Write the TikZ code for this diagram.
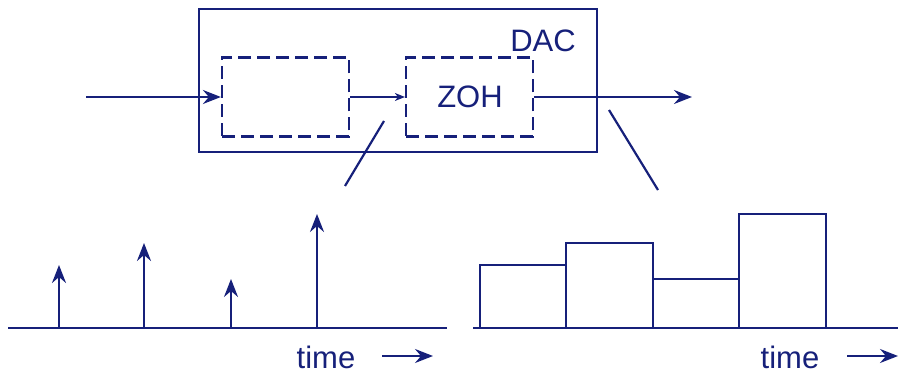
\documentclass[tikz,border=0pt]{standalone}
\usepackage{fontspec}
\setmainfont{Liberation Sans}
\usetikzlibrary{arrows.meta}
\definecolor{ink}{RGB}{22,32,122}
\begin{document}
\begin{tikzpicture}[x=1pt,y=-1pt, color=ink, line width=2.2pt,
  lbl/.style={font=\fontsize{31}{31}\selectfont, inner sep=0pt, anchor=base},
  blockbox/.style={draw, inner sep=0pt},
  dashbox/.style={draw, dash pattern=on 13pt off 6pt, inner sep=0pt},
  bigtip/.style={-{Stealth[length=18pt, width=14pt, inset=6pt]}},
  smalltip/.style={-{Stealth[length=10pt, width=8pt, inset=3pt]}},
]
\useasboundingbox (0,0) rectangle (899,374);

% DAC block with its two inner stages
\node[blockbox, minimum width=398pt, minimum height=143pt] (dac) at (398,80.5) {};
\node[dashbox, minimum width=127pt, minimum height=79pt] (sampler) at (285.5,97) {};
\node[dashbox, minimum width=127pt, minimum height=79pt] (zoh) at (469.5,97) {};
\node[lbl] (daclbl) at (543,52) {DAC};
\node[lbl] (zohlbl) at (470,108) {ZOH};

\coordinate (in) at (86,97);
\coordinate (out) at (692,97);
\draw[bigtip] (in) -- (sampler.west);
\draw[smalltip, line width=1.3pt] (sampler.east) -- (zoh.west);
\draw[bigtip] (zoh.east) -- (out);

% pointer lines to the two signal plots
\coordinate (p1a) at (384,121);
\coordinate (p1b) at (345,186);
\coordinate (p2a) at (609,110);
\coordinate (p2b) at (658,190);
\draw (p1a) -- (p1b);
\draw (p2a) -- (p2b);

% impulse train
\draw (8,328) -- (447,328);
\foreach \x/\h in {59/265, 144/243, 231/279, 317/214}
  \draw[bigtip] (\x,328) -- (\x,\h);

% staircase output
\draw (473,328) -- (898,328);
\draw (480,328) -- (480,265) -- (566,265) -- (566,328);
\draw (566,328) -- (566,243) -- (653,243) -- (653,328);
\draw (653,328) -- (653,279) -- (739,279) -- (739,328);
\draw (739,328) -- (739,214) -- (826,214) -- (826,328);

% time axis labels
\node[lbl] (t1) at (326,368) {time};
\node[lbl] (t2) at (790,368) {time};
\coordinate (a1s) at (382,356);
\coordinate (a1e) at (433,356);
\coordinate (a2s) at (847,356);
\coordinate (a2e) at (898,356);
\draw[bigtip, line width=1.8pt] (a1s) -- (a1e);
\draw[bigtip, line width=1.8pt] (a2s) -- (a2e);
\end{tikzpicture}
\end{document}
